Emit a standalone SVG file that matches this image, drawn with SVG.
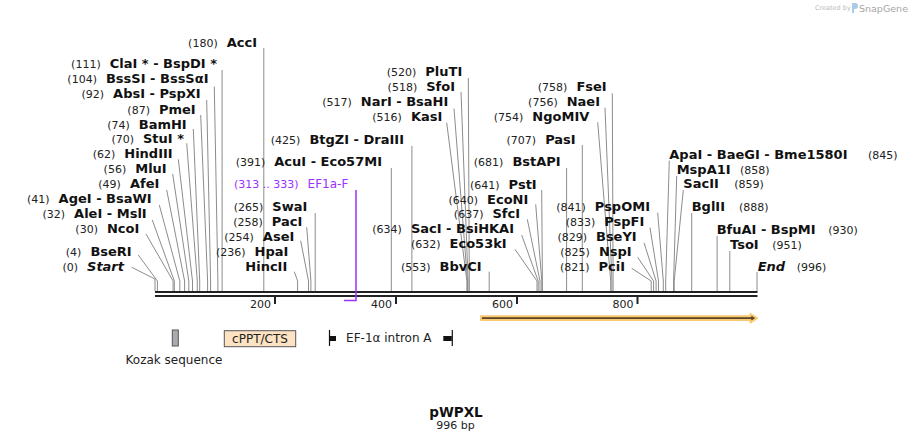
<svg xmlns="http://www.w3.org/2000/svg" width="912" height="441" viewBox="0 0 912 441">
<style>
text{font-family:"DejaVu Sans","Liberation Sans",sans-serif;fill:#111}
.num{font-size:11px;font-weight:normal;fill:#222}
.nm{font-size:13px;font-weight:bold}
.it{font-style:italic}
.cut{stroke:#8c8c8c;stroke-width:1;fill:none}
.bb{stroke:#222;stroke-width:2}
.tick{stroke:#222;stroke-width:2}
.tl{font-size:11px;fill:#222}
.ft{font-size:12px;fill:#222}
.pr{fill:#9b30ff}
</style>
<rect width="912" height="441" fill="#fff"/>
<g id="logo">
<text x="815" y="10" style="font-size:6.5px;fill:#bbb">Created by</text>
<path d="M852,3 h3 a3,3 0 0 1 0,6 h-1 v4 h-2 z" fill="#a9cbe6"/>
<text x="859" y="11.5" style="font-size:9.5px;fill:#a6a6a6">SnapGene</text>
</g>
<g id="connectors">
<polyline class="cut" points="263.8,48 263.8,291"/>
<polyline class="cut" points="222.1,70 222.1,291"/>
<polyline class="cut" points="214.3,86.5 217.9,281 217.9,291"/>
<polyline class="cut" points="206.7,100 210.6,281 210.6,291"/>
<polyline class="cut" points="200.7,115 207.6,281 207.6,291"/>
<polyline class="cut" points="193.3,129 199.7,281 199.7,291"/>
<polyline class="cut" points="186.7,143.3 197.3,281 197.3,291"/>
<polyline class="cut" points="178.3,159.3 192.5,281 192.5,291"/>
<polyline class="cut" points="172.7,174 188.8,281 188.8,291"/>
<polyline class="cut" points="166.7,190 184.6,281 184.6,291"/>
<polyline class="cut" points="159.3,205 179.8,281 179.8,291"/>
<polyline class="cut" points="152.3,220 174.3,281 174.3,291"/>
<polyline class="cut" points="146,234 173.1,281 173.1,291"/>
<polyline class="cut" points="138.3,255 157.4,281 157.4,291"/>
<polyline class="cut" points="131.7,267.3 155,279 155,291"/>
<polyline class="cut" points="315.2,213 315.2,291"/>
<polyline class="cut" points="306.7,227.3 310.9,281 310.9,291"/>
<polyline class="cut" points="300.7,240.7 308.5,281 308.5,291"/>
<polyline class="cut" points="294.3,271.7 297.6,281 297.6,291"/>
<polyline class="cut" points="391.3,168 391.3,291"/>
<polyline class="cut" points="411.9,146 411.9,291"/>
<polyline class="cut" points="468.3,78 469.3,281 469.3,291"/>
<polyline class="cut" points="461,92 468.1,281 468.1,291"/>
<polyline class="cut" points="454,108.5 467.5,281 467.5,291"/>
<polyline class="cut" points="446.7,122.7 466.9,281 466.9,291"/>
<polyline class="cut" points="489.2,271.7 489.2,291"/>
<polyline class="cut" points="521.7,235 538.2,281 538.2,291"/>
<polyline class="cut" points="515,249.3 537,281 537,291"/>
<polyline class="cut" points="527.3,219.3 540,281 540,291"/>
<polyline class="cut" points="535.7,204.3 541.8,281 541.8,291"/>
<polyline class="cut" points="541.7,190 542.4,281 542.4,291"/>
<polyline class="cut" points="566.6,168 566.6,291"/>
<polyline class="cut" points="582.3,145 582.3,291"/>
<polyline class="cut" points="597.7,122.3 610.7,281 610.7,291"/>
<polyline class="cut" points="605,107.7 611.9,281 611.9,291"/>
<polyline class="cut" points="612.3,93.3 613.1,281 613.1,291"/>
<polyline class="cut" points="657.7,212.7 663.3,281 663.3,291"/>
<polyline class="cut" points="650,227.7 658.5,281 658.5,291"/>
<polyline class="cut" points="644,242.7 656.1,281 656.1,291"/>
<polyline class="cut" points="637.7,257.3 653.6,281 653.6,291"/>
<polyline class="cut" points="631.7,268.3 651.2,281 651.2,291"/>
<polyline class="cut" points="669.3,160.7 665.7,281 665.7,291"/>
<polyline class="cut" points="676.7,176 673.6,281 673.6,291"/>
<polyline class="cut" points="683.3,190 674.2,281 674.2,291"/>
<polyline class="cut" points="691.7,213 691.7,291"/>
<polyline class="cut" points="717.1,236 717.1,291"/>
<polyline class="cut" points="729.8,251 729.8,291"/>
<polyline class="cut" points="757,272 757,291"/>
</g>
<g id="backbone">
<line class="bb" x1="155" y1="292" x2="757.5" y2="292"/>
<line class="bb" x1="155" y1="296" x2="757.5" y2="296"/>
<line class="tick" x1="275" y1="297" x2="275" y2="304"/>
<line class="tick" x1="396" y1="297" x2="396" y2="304"/>
<line class="tick" x1="517" y1="297" x2="517" y2="304"/>
<line class="tick" x1="637.5" y1="297" x2="637.5" y2="304"/>
<text class="tl" x="271" y="308" text-anchor="end">200</text>
<text class="tl" x="392" y="308" text-anchor="end">400</text>
<text class="tl" x="513" y="308" text-anchor="end">600</text>
<text class="tl" x="633.5" y="308" text-anchor="end">800</text>
</g>
<g id="sites-left">
<text x="257" y="46.5" text-anchor="end"><tspan class="num">(180)</tspan><tspan class="nm" dx="9">AccI</tspan></text>
<text x="217" y="68" text-anchor="end"><tspan class="num">(111)</tspan><tspan class="nm" dx="9">ClaI * - BspDI *</tspan></text>
<text x="208.5" y="83.2" text-anchor="end"><tspan class="num">(104)</tspan><tspan class="nm" dx="9">BssSI - BssSαI</tspan></text>
<text x="200.7" y="98.3" text-anchor="end"><tspan class="num">(92)</tspan><tspan class="nm" dx="9">AbsI - PspXI</tspan></text>
<text x="195.7" y="113.5" text-anchor="end"><tspan class="num">(87)</tspan><tspan class="nm" dx="9">PmeI</tspan></text>
<text x="186.7" y="128.6" text-anchor="end"><tspan class="num">(74)</tspan><tspan class="nm" dx="9">BamHI</tspan></text>
<text x="184" y="143.2" text-anchor="end"><tspan class="num">(70)</tspan><tspan class="nm" dx="9">StuI *</tspan></text>
<text x="172.7" y="157.8" text-anchor="end"><tspan class="num">(62)</tspan><tspan class="nm" dx="9">HindIII</tspan></text>
<text x="166.7" y="172.8" text-anchor="end"><tspan class="num">(56)</tspan><tspan class="nm" dx="9">MluI</tspan></text>
<text x="159.3" y="187.8" text-anchor="end"><tspan class="num">(49)</tspan><tspan class="nm" dx="9">AfeI</tspan></text>
<text x="151.7" y="202.8" text-anchor="end"><tspan class="num">(41)</tspan><tspan class="nm" dx="9">AgeI - BsaWI</tspan></text>
<text x="146.7" y="217.8" text-anchor="end"><tspan class="num">(32)</tspan><tspan class="nm" dx="9">AleI - MslI</tspan></text>
<text x="139.3" y="232.8" text-anchor="end"><tspan class="num">(30)</tspan><tspan class="nm" dx="9">NcoI</tspan></text>
<text x="131.7" y="256.2" text-anchor="end"><tspan class="num">(4)</tspan><tspan class="nm" dx="9">BseRI</tspan></text>
<text x="124" y="271.2" text-anchor="end"><tspan class="num">(0)</tspan><tspan class="nm it" dx="9">Start</tspan></text>
</g>
<g id="sites-middle">
<text x="307.3" y="211.2" text-anchor="end"><tspan class="num">(265)</tspan><tspan class="nm" dx="9">SwaI</tspan></text>
<text x="302.3" y="226.2" text-anchor="end"><tspan class="num">(258)</tspan><tspan class="nm" dx="9">PacI</tspan></text>
<text x="294.3" y="241.2" text-anchor="end"><tspan class="num">(254)</tspan><tspan class="nm" dx="9">AseI</tspan></text>
<text x="288.3" y="256.2" text-anchor="end"><tspan class="num">(236)</tspan><tspan class="nm" dx="9">HpaI</tspan></text>
<text x="287.3" y="271.2" text-anchor="end" class="nm">HincII</text>
<text x="382" y="166.2" text-anchor="end"><tspan class="num">(391)</tspan><tspan class="nm" dx="9">AcuI - Eco57MI</tspan></text>
<text x="404" y="143.5" text-anchor="end"><tspan class="num">(425)</tspan><tspan class="nm" dx="9">BtgZI - DraIII</tspan></text>
<text x="462.3" y="76.2" text-anchor="end"><tspan class="num">(520)</tspan><tspan class="nm" dx="9">PluTI</tspan></text>
<text x="455" y="91.2" text-anchor="end"><tspan class="num">(518)</tspan><tspan class="nm" dx="9">SfoI</tspan></text>
<text x="448.3" y="106.2" text-anchor="end"><tspan class="num">(517)</tspan><tspan class="nm" dx="9">NarI - BsaHI</tspan></text>
<text x="442.3" y="121.4" text-anchor="end"><tspan class="num">(516)</tspan><tspan class="nm" dx="9">KasI</tspan></text>
<text x="481.7" y="271.2" text-anchor="end"><tspan class="num">(553)</tspan><tspan class="nm" dx="9">BbvCI</tspan></text>
<text x="536.7" y="188.5" text-anchor="end"><tspan class="num">(641)</tspan><tspan class="nm" dx="9">PstI</tspan></text>
<text x="528.3" y="203.5" text-anchor="end"><tspan class="num">(640)</tspan><tspan class="nm" dx="9">EcoNI</tspan></text>
<text x="520" y="218" text-anchor="end"><tspan class="num">(637)</tspan><tspan class="nm" dx="9">SfcI</tspan></text>
<text x="514" y="233.3" text-anchor="end"><tspan class="num">(634)</tspan><tspan class="nm" dx="9">SacI - BsiHKAI</tspan></text>
<text x="506.7" y="247.8" text-anchor="end"><tspan class="num">(632)</tspan><tspan class="nm" dx="9">Eco53kI</tspan></text>
<text x="560.7" y="166.2" text-anchor="end"><tspan class="num">(681)</tspan><tspan class="nm" dx="9">BstAPI</tspan></text>
<text x="575.7" y="143.5" text-anchor="end"><tspan class="num">(707)</tspan><tspan class="nm" dx="9">PasI</tspan></text>
<text x="589.3" y="121.2" text-anchor="end"><tspan class="num">(754)</tspan><tspan class="nm" dx="9">NgoMIV</tspan></text>
<text x="600" y="106.2" text-anchor="end"><tspan class="num">(756)</tspan><tspan class="nm" dx="9">NaeI</tspan></text>
<text x="606.7" y="91.2" text-anchor="end"><tspan class="num">(758)</tspan><tspan class="nm" dx="9">FseI</tspan></text>
<text x="650" y="211.2" text-anchor="end"><tspan class="num">(841)</tspan><tspan class="nm" dx="9">PspOMI</tspan></text>
<text x="644.3" y="226.2" text-anchor="end"><tspan class="num">(833)</tspan><tspan class="nm" dx="9">PspFI</tspan></text>
<text x="636.7" y="241.2" text-anchor="end"><tspan class="num">(829)</tspan><tspan class="nm" dx="9">BseYI</tspan></text>
<text x="631.7" y="256.2" text-anchor="end"><tspan class="num">(825)</tspan><tspan class="nm" dx="9">NspI</tspan></text>
<text x="625" y="271.2" text-anchor="end"><tspan class="num">(821)</tspan><tspan class="nm" dx="9">PciI</tspan></text>
</g>
<g id="sites-right">
<text class="nm" x="669.3" y="158.5">ApaI - BaeGI - Bme1580I</text><text class="num" x="868" y="158.5">(845)</text>
<text class="nm" x="676.7" y="173.8">MspA1I</text><text class="num" x="740" y="173.8">(858)</text>
<text class="nm" x="683.3" y="187.8">SacII</text><text class="num" x="734.3" y="187.8">(859)</text>
<text class="nm" x="691.7" y="211.2">BglII</text><text class="num" x="739" y="211.2">(888)</text>
<text class="nm" x="716.7" y="233.5">BfuAI - BspMI</text><text class="num" x="828.3" y="233.5">(930)</text>
<text class="nm" x="730" y="248.5">TsoI</text><text class="num" x="772.3" y="248.5">(951)</text>
<text class="nm it" x="757.7" y="271.2">End</text><text class="num" x="796.7" y="271.2">(996)</text>
</g>
<g id="primer-EF1a-F">
<text x="348.3" y="187.8" text-anchor="end" class="pr"><tspan class="num pr">(313 .. 333)</tspan><tspan dx="9" style="font-size:12px" class="pr">EF1a-F</tspan></text>
<polyline points="356,190 356,300.5 344,300.5" fill="none" stroke="#9b30ff" stroke-width="1.5"/>
</g>
<g id="feature-orange">
<path d="M481,316.3 H750.5 V314 L757,318.2 L750.5,322.4 V320.1 H481 Z" fill="#5a4526" stroke="#fbc872" stroke-width="2" stroke-linejoin="round"/>
</g>
<g id="feature-kozak">
<rect x="172.3" y="330" width="6" height="16" fill="#a8abaf" stroke="#555" stroke-width="1"/>
<text class="ft" x="174" y="363.5" text-anchor="middle">Kozak sequence</text>
</g>
<g id="feature-cppt">
<rect x="224.3" y="330.7" width="71.4" height="16" fill="#fde2c3" stroke="#555" stroke-width="1"/>
<text class="ft" x="260" y="342.8" text-anchor="middle">cPPT/CTS</text>
</g>
<g id="feature-intron">
<line x1="329.5" y1="330" x2="329.5" y2="346" stroke="#111" stroke-width="1.2"/>
<rect x="329.5" y="336" width="6.5" height="5" fill="#111"/>
<rect x="443.3" y="336" width="8.5" height="5" fill="#111"/>
<line x1="452.3" y1="330" x2="452.3" y2="346" stroke="#111" stroke-width="1.2"/>
<text class="ft" x="388.8" y="342" text-anchor="middle">EF-1α intron A</text>
</g>
<g id="title">
<text x="456" y="416.5" text-anchor="middle" style="font-size:13.5px;font-weight:bold">pWPXL</text>
<text x="455.5" y="428.5" text-anchor="middle" style="font-size:11px;fill:#222">996 bp</text>
</g>
</svg>
